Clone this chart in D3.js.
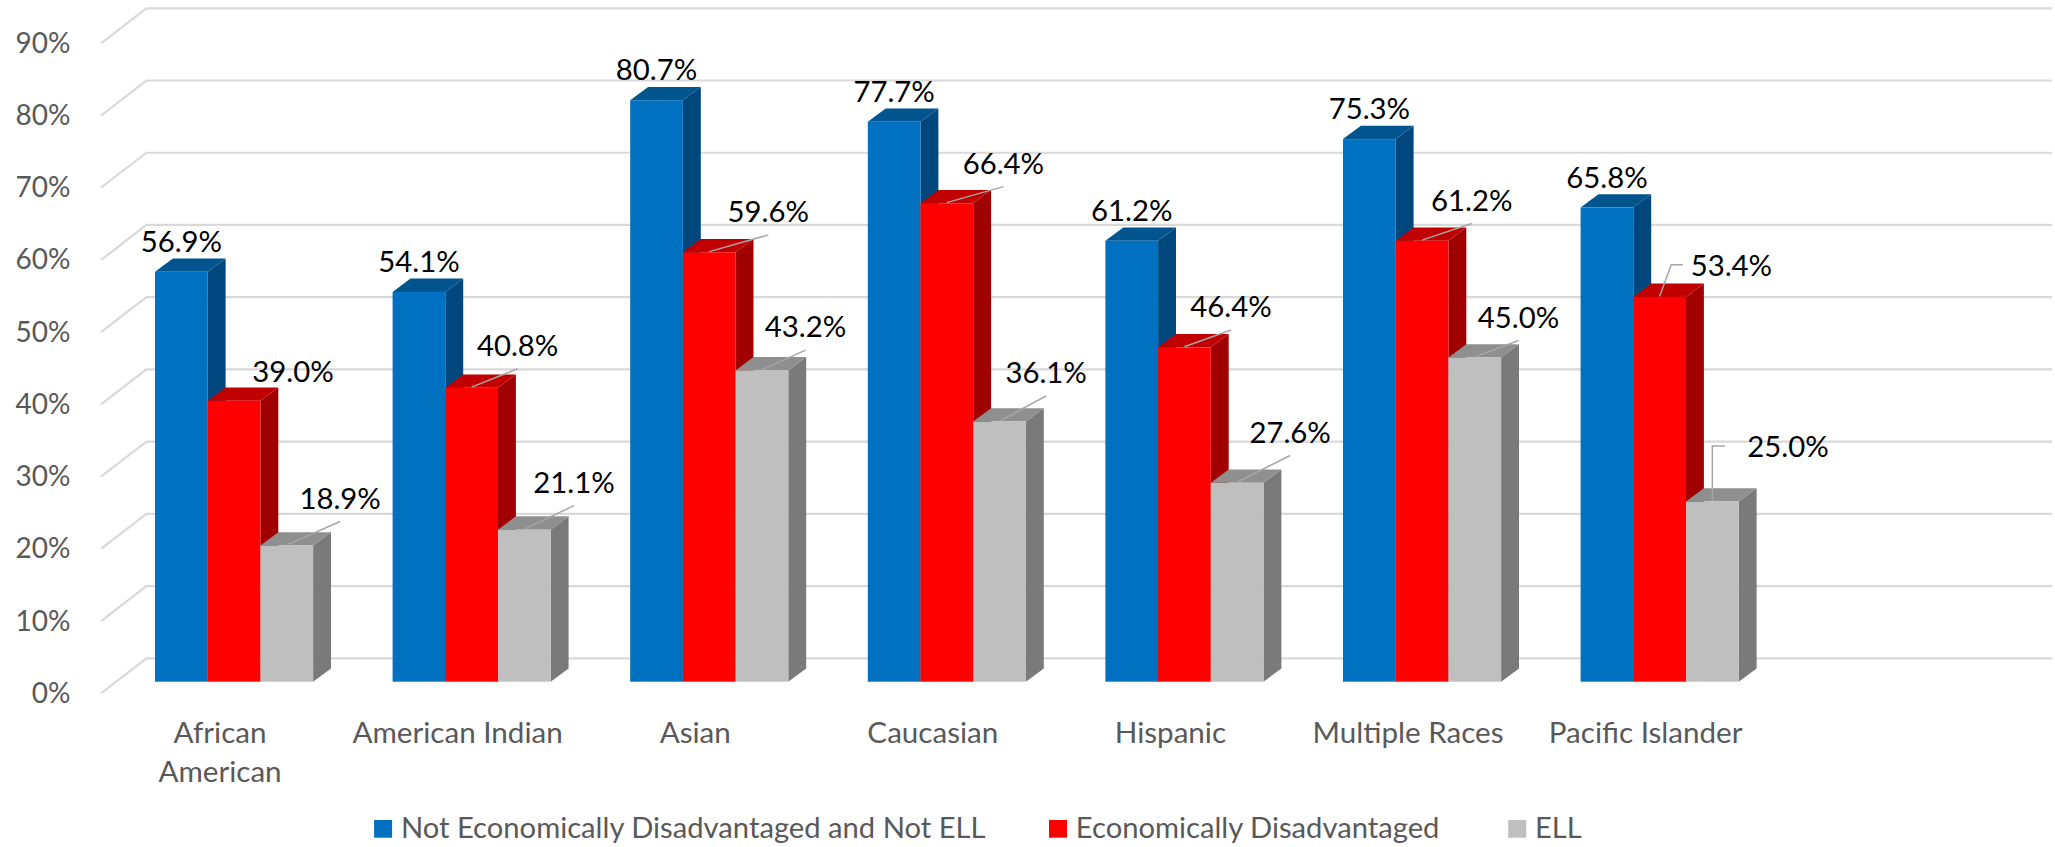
<!DOCTYPE html>
<html>
<head>
<meta charset="utf-8">
<script src="https://cdn.jsdelivr.net/npm/d3@7"></script>
<style>
	html, body { margin: 0; padding: 0; background: #fff; overflow: hidden; }
	text { font-family: Lato, "Open Sans", sans-serif; }
</style>
</head>
<body>
<div id="chart"></div>
<script>
var categories = ["African American", "American Indian", "Asian", "Caucasian", "Hispanic", "Multiple Races", "Pacific Islander"];
var seriesNames = ["Not Economically Disadvantaged and Not ELL", "Economically Disadvantaged", "ELL"];
var notDisadvantaged = [56.9, 54.1, 80.7, 77.7, 61.2, 75.3, 65.8];
var disadvantaged = [39.0, 40.8, 59.6, 66.4, 46.4, 61.2, 53.4];
var ell = [18.9, 21.1, 43.2, 36.1, 27.6, 45.0, 25.0];
var yTicks = [0, 10, 20, 30, 40, 50, 60, 70, 80, 90];

var seriesValues = [notDisadvantaged, disadvantaged, ell];

// front, top, side colour of each series
var colors = [
	["#0070C0", "#00558F", "#00477D"],
	["#FF0000", "#C00000", "#A00000"],
	["#BFBFBF", "#8F8F8F", "#7A7A7A"]
];

// hand placed data labels, [dx, dy] from the middle of the bar's top edge to the label's baseline
var blueNudge = [[0, -20], [0, -20], [0, -20], [0, -20], [0, -20], [0, -20], [0, -20]];
var redNudge = [[59, -19], [46, -31.6], [59, -30], [56.5, -29.3], [46.5, -30], [49.7, -30], [71.7, -20.7]];
var grayNudge = [[53.4, -36.7], [49.7, -36.7], [43.6, -33], [46.6, -38.3], [53, -40], [43.8, -29.7], [75.6, -44.6]];
var labelNudge = [blueNudge, redNudge, grayNudge];
// which leader each label has
var redLeader = ["", "line", "line", "line", "line", "line", "elbow"];
var grayLeader = ["line", "line", "line", "line", "line", "line", "elbowUp"];
var leaders = [[], redLeader, grayLeader];

var width = 2055, height = 847;
var depth = { barX: 17.9, barY: 13.3, wallX: 45.4, wallY: 35 };

var svg = d3.select("#chart").append("svg")
	.attr("width", width)
	.attr("height", height)
	.style("display", "block");

var x0 = d3.scaleBand().domain(categories).range([155, 1738.7]).paddingInner(0.3346).paddingOuter(0);
var x1 = d3.scaleBand().domain(d3.range(3)).range([0, x0.bandwidth()]);
var yBar = d3.scaleLinear().domain([0, 90]).range([681.7, 33.2]);
var yWall = d3.scaleLinear().domain([0, 90]).range([658.3, 8.3]);
var yFront = d3.scaleLinear().domain([0, 90]).range([693.3, 43.3]);

//////////////////////////////// Back wall ////////////////////////////////
var grid = svg.append("g").attr("fill", "none").attr("stroke", "#D9D9D9").attr("stroke-width", 2.2);
grid.selectAll("path")
	.data(yTicks)
	.enter().append("path")
	.attr("d", function(d) {
		return "M" + (146.4 - depth.wallX) + "," + yFront(d) + "L146.4," + yWall(d) + "L2052," + yWall(d);
	});

//////////////////////////////// Axis labels ////////////////////////////////
var yAxis = svg.append("g")
	.attr("transform", "translate(70.5,0)")
	.call(d3.axisLeft(yFront).tickValues(yTicks).tickFormat(function(d) { return d + "%"; }).tickSize(0).tickPadding(0));
yAxis.select(".domain").remove();
yAxis.selectAll("text")
	.attr("dy", 9)
	.attr("fill", "#595959")
	.style("font-size", "28px")
	.style("font-family", "Lato");

var catWrap = { "African American": ["African", "American"] };
var catLabels = svg.append("g").selectAll("text")
	.data(categories)
	.enter().append("text")
	.attr("text-anchor", "middle")
	.attr("fill", "#595959")
	.style("font-size", "29.6px");
catLabels.selectAll("tspan")
	.data(function(d) { return catWrap[d] || [d]; })
	.enter().append("tspan")
	.attr("x", function() { return x0(this.parentNode.__data__) + x0.bandwidth() / 2 - 14; })
	.attr("y", function(d, i) { return 742.7 + i * 39; })
	.text(function(d) { return d; });

//////////////////////////////// Bars ////////////////////////////////
var bars = [];
categories.forEach(function(c, i) {
	seriesValues.forEach(function(vals, s) {
		bars.push({ cat: c, i: i, s: s, value: vals[i] });
	});
});

var barG = svg.append("g").selectAll("g")
	.data(bars)
	.enter().append("g");

barG.append("path")
	.attr("fill", function(d) { return colors[d.s][2]; })
	.attr("d", function(d) {
		var r = x0(d.cat) + x1(d.s) + x1.bandwidth(), t = yBar(d.value), b = yBar(0);
		return "M" + r + "," + t + "l" + depth.barX + "," + (-depth.barY) + "L" + (r + depth.barX) + "," + (b - depth.barY) + "L" + r + "," + b + "Z";
	});
barG.append("path")
	.attr("fill", function(d) { return colors[d.s][1]; })
	.attr("d", function(d) {
		var l = x0(d.cat) + x1(d.s), t = yBar(d.value), w = x1.bandwidth();
		return "M" + l + "," + t + "l" + depth.barX + "," + (-depth.barY) + "h" + w + "l" + (-depth.barX) + "," + depth.barY + "Z";
	});
barG.append("rect")
	.attr("fill", function(d) { return colors[d.s][0]; })
	.attr("x", function(d) { return x0(d.cat) + x1(d.s); })
	.attr("y", function(d) { return yBar(d.value); })
	.attr("width", x1.bandwidth())
	.attr("height", function(d) { return yBar(0) - yBar(d.value); });

//////////////////////////////// Data labels ////////////////////////////////
function labelPos(d) {
	var n = labelNudge[d.s][d.i];
	return [x0(d.cat) + x1(d.s) + x1.bandwidth() / 2 + n[0], yBar(d.value) + n[1]];
}

svg.append("g").attr("fill", "none").attr("stroke", "#A6A6A6").attr("stroke-width", 1.5)
	.selectAll("path")
	.data(bars.filter(function(d) { return leaders[d.s][d.i]; }))
	.enter().append("path")
	.attr("d", function(d) {
		var sx = x0(d.cat) + x1(d.s) + x1.bandwidth() / 2, sy = yBar(d.value) - 0.6;
		var p = labelPos(d), kind = leaders[d.s][d.i];
		if (kind == "line") return "M" + sx + "," + sy + "L" + p[0] + "," + (p[1] + 12.7);
		if (kind == "elbow") return "M" + sx + "," + sy + "L" + (sx + 11.6) + "," + (p[1] - 11.4) + "h11.7";
		return "M" + sx + "," + sy + "V" + (p[1] - 11) + "h12.6";
	});

svg.append("g").selectAll("text")
	.data(bars)
	.enter().append("text")
	.attr("text-anchor", "middle")
	.attr("fill", "#000")
	.style("font-size", "29.3px")
	.attr("x", function(d) { return labelPos(d)[0]; })
	.attr("y", function(d) { return labelPos(d)[1]; })
	.text(function(d) { return d3.format(".1f")(d.value) + "%"; });

//////////////////////////////// Legend ////////////////////////////////
var legendSwatchX = [374.1, 1049, 1508.2];
var legendG = svg.append("g").selectAll("g")
	.data(seriesNames)
	.enter().append("g")
	.attr("transform", function(d, i) { return "translate(" + legendSwatchX[i] + ",820)"; });
legendG.append("rect")
	.attr("width", 18)
	.attr("height", 17.7)
	.attr("fill", function(d, i) { return colors[i][0]; });
legendG.append("text")
	.attr("x", 26.8)
	.attr("y", 18.3)
	.attr("fill", "#595959")
	.style("font-size", "29.2px")
	.text(function(d) { return d; });
</script>
</body>
</html>
